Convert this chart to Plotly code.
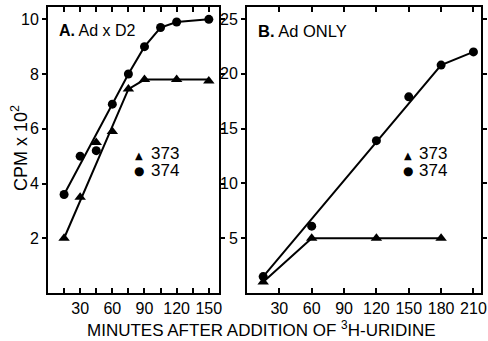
import plotly.graph_objects as go

W, H = 488, 341

# ---- Panel A: Ad x D2 ----
a_min_373 = [15, 30, 45, 60, 75, 90, 120, 150]
a_cpm_373 = [2.0, 3.5, 5.5, 5.9, 7.45, 7.8, 7.8, 7.75]
a_min_374 = [15, 30, 45, 60, 75, 90, 105, 120, 150]
a_cpm_374 = [3.6, 5.0, 5.2, 6.9, 8.0, 9.0, 9.7, 9.9, 10.0]
# drawn (fitted) curves
a_fit_min_373 = [15, 75, 90, 150]
a_fit_cpm_373 = [2.0, 7.45, 7.8, 7.8]
a_fit_min_374 = [15, 75, 90, 105, 120, 150]
a_fit_cpm_374 = [3.6, 8.0, 9.0, 9.7, 9.9, 10.0]

# ---- Panel B: Ad ONLY ----
b_min_373 = [15, 60, 120, 180]
b_cpm_373 = [1.0, 5.0, 5.0, 5.0]
b_min_374 = [15, 60, 120, 150, 180, 210]
b_cpm_374 = [1.5, 6.1, 13.9, 17.9, 20.8, 22.0]
b_fit_min_373 = [15, 60, 180]
b_fit_cpm_373 = [1.0, 5.0, 5.0]
b_fit_min_374 = [15, 180, 210]
b_fit_cpm_374 = [1.5, 20.8, 22.0]

a_xticks = [30, 60, 90, 120, 150]
b_xticks = [30, 60, 90, 120, 150, 180, 210]
a_yticks = [2, 4, 6, 8, 10]
b_yticks = [5, 10, 15, 20, 25]

TICKFONT = dict(family="Liberation Sans Narrow, Liberation Sans, Arial", size=16, color="black")
FONT = "Liberation Sans, Arial"


def px(x):
    return x / W


def py(y):
    return 1 - y / H


fig = go.Figure()

line = dict(color="black", width=2)
for xa, ya, fx, fy, sym, mx, my in [
    ("x", "y", a_fit_min_373, a_fit_cpm_373, "triangle-up", a_min_373, a_cpm_373),
    ("x", "y", a_fit_min_374, a_fit_cpm_374, "circle", a_min_374, a_cpm_374),
    ("x2", "y2", b_fit_min_373, b_fit_cpm_373, "triangle-up", b_min_373, b_cpm_373),
    ("x2", "y2", b_fit_min_374, b_fit_cpm_374, "circle", b_min_374, b_cpm_374),
]:
    fig.add_trace(go.Scatter(x=fx, y=fy, mode="lines", line=line,
                             xaxis=xa, yaxis=ya, showlegend=False, hoverinfo="skip"))
    fig.add_trace(go.Scatter(x=mx, y=my, mode="markers",
                             marker=dict(symbol=sym, size=9 if sym == "circle" else 10,
                                         color="black"),
                             xaxis=xa, yaxis=ya, showlegend=False))

ydom = [py(293), py(7)]
common_x = dict(showline=True, linewidth=2, linecolor="black", mirror="ticks",
                ticks="inside", ticklen=5, tickwidth=1.5, tickcolor="black",
                showgrid=False, zeroline=False, tickfont=TICKFONT, tickangle=0,
                automargin=False, tickmode="array")
common_y = dict(showline=True, linewidth=2, linecolor="black", mirror="ticks",
                ticks="outside", ticklen=4, tickwidth=1.5, tickcolor="black",
                showgrid=False, zeroline=False, tickfont=TICKFONT,
                automargin=False, tickmode="array")

fig.update_layout(
    width=W, height=H, autosize=False,
    margin=dict(l=0, r=0, t=0, b=0, pad=0),
    paper_bgcolor="white", plot_bgcolor="white",
    xaxis=dict(domain=[px(48), px(219)], range=[0, 159.5],
               tickvals=a_xticks, ticktext=[str(v) for v in a_xticks],
               minor=dict(tick0=15, dtick=30, ticks="inside", ticklen=5,
                          tickwidth=1.5, tickcolor="black", showgrid=False),
               anchor="y", **common_x),
    yaxis=dict(domain=ydom, range=[0, 10.45],
               tickvals=a_yticks, ticktext=[str(v) for v in a_yticks],
               anchor="x", **common_y),
    xaxis2=dict(domain=[px(247), px(481)], range=[0, 217],
                tickvals=b_xticks, ticktext=[str(v) for v in b_xticks],
                anchor="y2", **common_x),
    yaxis2=dict(domain=ydom, range=[0, 26.1],
                tickvals=b_yticks, ticktext=[str(v) for v in b_yticks],
                anchor="x2", **common_y),
)

ann = []
# Panel labels
ann.append(dict(x=px(57), y=py(30), text="<b>A.</b> Ad x D2", xanchor="left", yanchor="middle",
                font=dict(family=FONT, size=16, color="black")))
ann.append(dict(x=px(256), y=py(31), text="<b>B.</b> Ad ONLY", xanchor="left", yanchor="middle",
                font=dict(family=FONT, size=16.5, color="black")))
# In-panel keys
for sx, tx in [(139, 149), (408, 417)]:
    ann.append(dict(x=px(sx), y=py(155), text="▲", xanchor="center", yanchor="middle",
                    font=dict(family="DejaVu Sans", size=10, color="black")))
    ann.append(dict(x=px(sx), y=py(171), text="●", xanchor="center", yanchor="middle",
                    font=dict(family="DejaVu Sans", size=12, color="black")))
    ann.append(dict(x=px(tx), y=py(153.5), text="373", xanchor="left", yanchor="middle",
                    font=dict(family=FONT, size=17, color="black")))
    ann.append(dict(x=px(tx), y=py(170), text="374", xanchor="left", yanchor="middle",
                    font=dict(family=FONT, size=17, color="black")))
# Axis titles
ann.append(dict(x=px(261), y=py(329), text="MINUTES AFTER ADDITION OF <sup>3</sup>H-URIDINE",
                xanchor="center", yanchor="middle",
                font=dict(family=FONT, size=17, color="black")))
ann.append(dict(x=px(19), y=py(148), text="CPM x 10<sup>2</sup>", textangle=-90,
                xanchor="center", yanchor="middle",
                font=dict(family=FONT, size=18, color="black")))
for a in ann:
    a.update(xref="paper", yref="paper", showarrow=False)
fig.update_layout(annotations=ann)

fig.write_html(
    "out.html",
    config={"displayModeBar": False},
    post_script="document.body.style.margin='0';document.body.style.overflow='hidden';",
)
